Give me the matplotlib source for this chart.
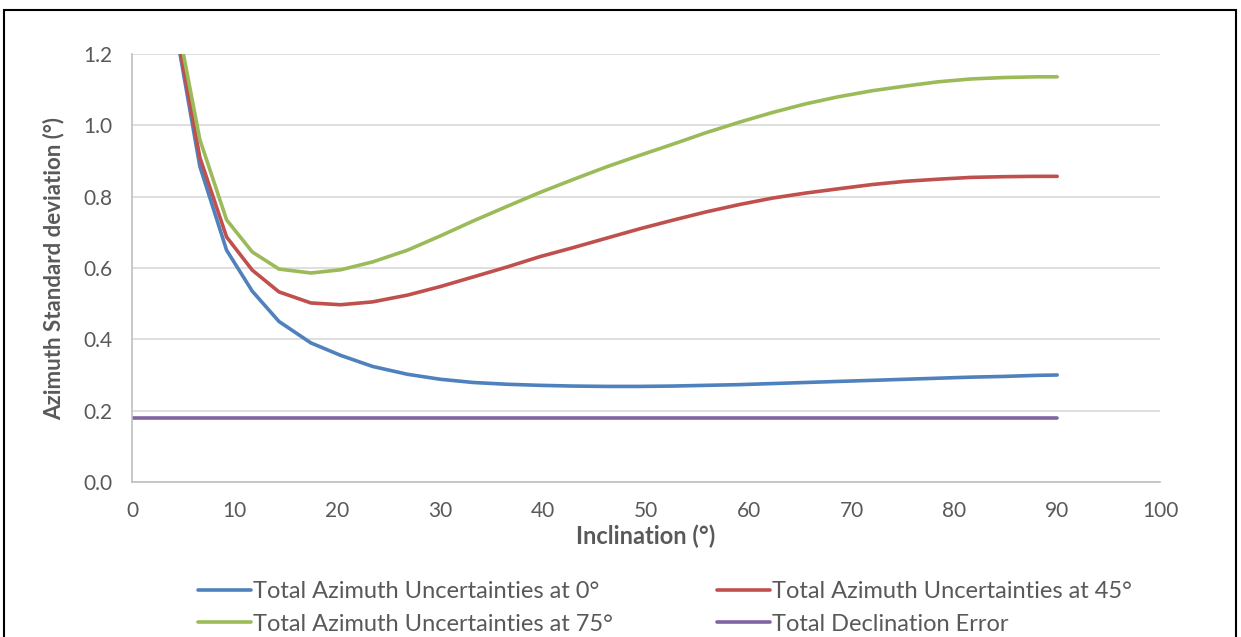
import matplotlib
matplotlib.use('Agg')
from matplotlib import pyplot as plt
from matplotlib.patches import Rectangle

# inclination (deg) sample points
inclination = [4.0, 6.6, 9.2, 11.7, 14.3, 17.4, 20.3, 23.4, 26.8, 30.0, 33.2, 36.5,
               39.7, 42.9, 46.2, 49.4, 52.6, 55.8, 59.1, 62.3, 65.5, 68.7, 72.0,
               75.2, 78.4, 81.6, 84.8, 88.0, 90.0]

az_0 = [1.31, 0.885, 0.65, 0.535, 0.45, 0.39, 0.355, 0.324, 0.302, 0.288, 0.279, 0.274,
        0.271, 0.269, 0.268, 0.268, 0.269, 0.271, 0.273, 0.276, 0.279, 0.282, 0.285,
        0.288, 0.291, 0.294, 0.296, 0.299, 0.300]
az_45 = [1.32, 0.91, 0.687, 0.594, 0.533, 0.502, 0.497, 0.505, 0.524, 0.548, 0.575, 0.603,
         0.632, 0.657, 0.684, 0.710, 0.734, 0.757, 0.778, 0.796, 0.810, 0.822, 0.834,
         0.843, 0.849, 0.854, 0.856, 0.857, 0.857]
az_75 = [1.35, 0.96, 0.735, 0.645, 0.597, 0.586, 0.595, 0.617, 0.650, 0.690, 0.732, 0.773,
         0.812, 0.848, 0.884, 0.916, 0.947, 0.979, 1.009, 1.036, 1.060, 1.080, 1.097,
         1.110, 1.122, 1.130, 1.134, 1.136, 1.136]
decl_x = [0, 90]
decl_err = [0.18, 0.18]

labels = ['Total Azimuth Uncertainties at 0°', 'Total Azimuth Uncertainties at 45°',
          'Total Azimuth Uncertainties at 75°', 'Total Declination Error']
colors = ['#4F81BD', '#C0504D', '#9BBB59', '#8064A2']

plt.rcParams['font.family'] = ['Lato', 'DejaVu Sans']
txt = '#595959'

fig = plt.figure(figsize=(12.41, 6.37), dpi=100)
ax = fig.add_axes([132 / 1241, 1 - 482 / 637, (1160 - 132) / 1241, (482 - 54) / 637])

series = [(inclination, az_0), (inclination, az_45), (inclination, az_75), (decl_x, decl_err)]
handles = []
for (xs, ys), c, lab in zip(series, colors, labels):
    h, = ax.plot(xs, ys, color=c, lw=2.6, label=lab, solid_capstyle='round')
    handles.append(h)

ax.set_xlim(0, 100)
ax.set_ylim(0, 1.2)
ax.set_xticks(range(0, 101, 10))
ax.set_yticks([0, 0.2, 0.4, 0.6, 0.8, 1.0, 1.2])
ax.set_yticklabels(['%.1f' % v for v in ax.get_yticks()])
ax.tick_params(length=0, labelsize=15, colors=txt)
ax.tick_params(axis='x', pad=14)
ax.tick_params(axis='y', pad=14)
ax.yaxis.grid(True, color='#D9D9D9', lw=1.2)
ax.set_axisbelow(True)
for s in ['top', 'right']:
    ax.spines[s].set_visible(False)
for s in ['left', 'bottom']:
    ax.spines[s].set_color('#BFBFBF')
    ax.spines[s].set_linewidth(1.2)

ax.set_xlabel('Inclination (°)', fontsize=17, fontweight='bold', color=txt, labelpad=2)
ax.set_ylabel('Azimuth Standard deviation (°)', fontsize=16, fontweight='bold', color=txt, labelpad=14)

# legend below, two columns (order: row-wise)
order = [0, 2, 1, 3]
fig.legend([handles[i] for i in order], [labels[i] for i in order], ncol=2,
           loc='upper left', bbox_to_anchor=(186 / 1241, 1 - 569 / 637), frameon=False,
           borderpad=0, fontsize=17, labelcolor=txt, handlelength=2.25, handletextpad=0.08,
           columnspacing=4.4, labelspacing=0.5)

# outer frame
fig.patches.append(Rectangle((4 / 1241, -0.1), (1236 - 4) / 1241, 1.1 - 10 / 637,
                             transform=fig.transFigure, fill=False, ec='black', lw=1.5))

fig.savefig('out.png', dpi=100)
